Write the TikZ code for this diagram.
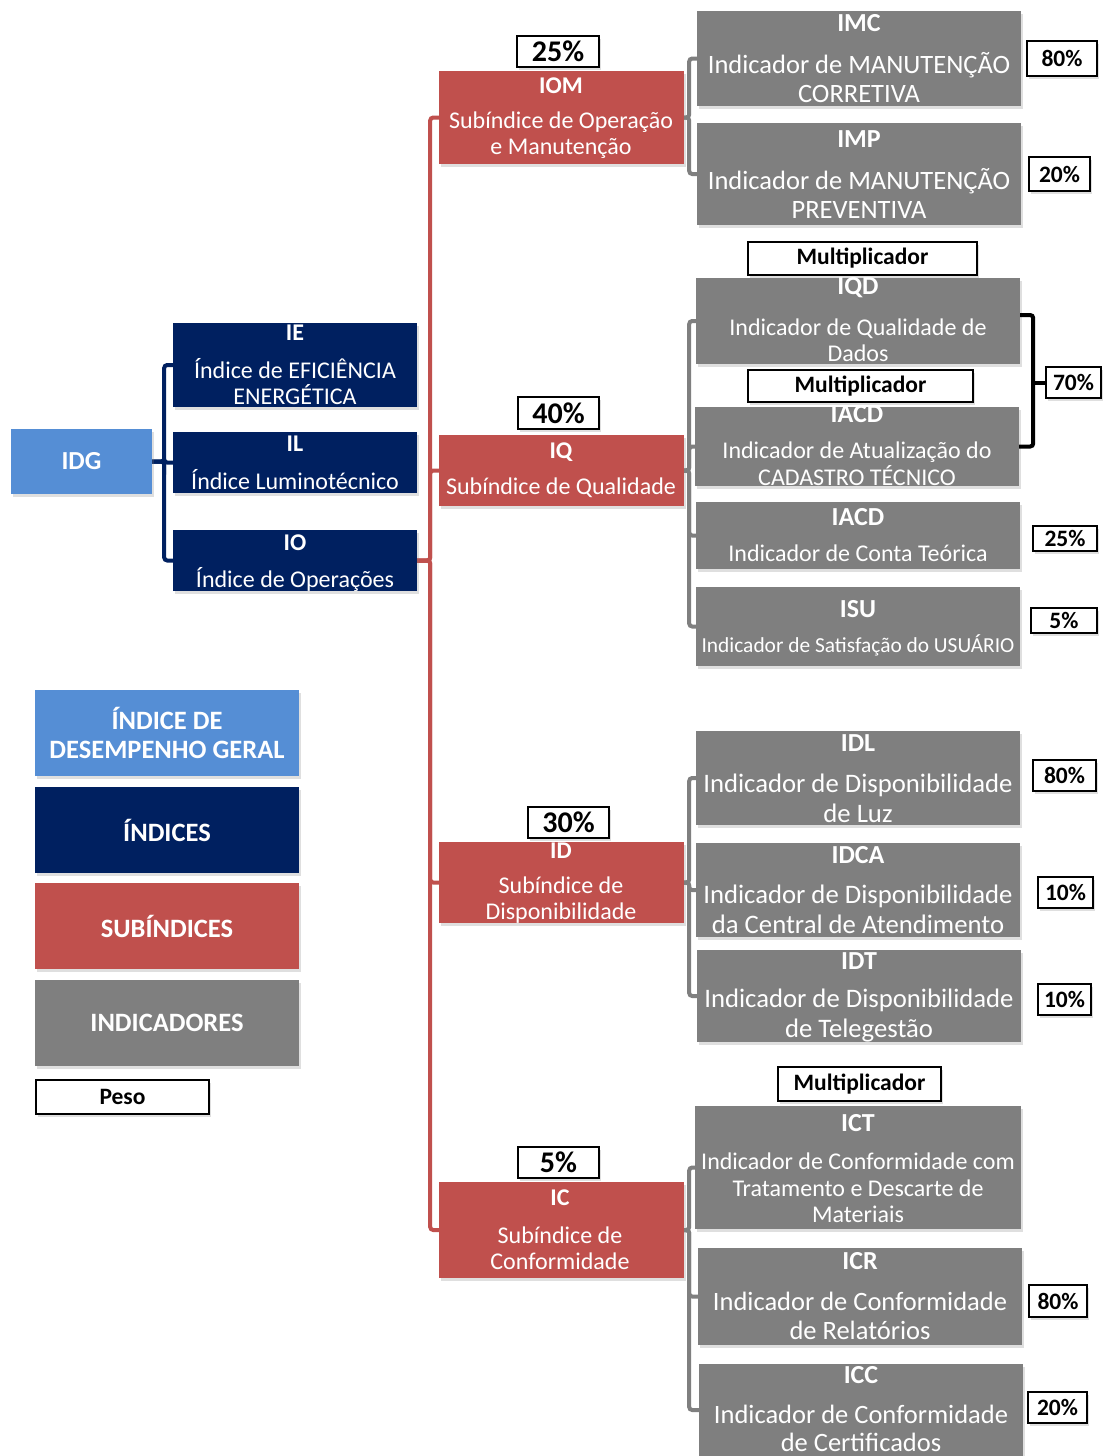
\documentclass[tikz,border=0pt]{standalone}
\usepackage{fontspec}
\setmainfont{Carlito}
\usetikzlibrary{shadows}
\definecolor{idgblue}{HTML}{558ED5}
\definecolor{idxnavy}{HTML}{002060}
\definecolor{subred}{HTML}{C0504D}
\definecolor{indgray}{HTML}{7F7F7F}
\newcommand{\fsz}[2]{\fontsize{#1}{#2}\selectfont}
\pgfdeclarelayer{bg}
\pgfsetlayers{bg,main}

\begin{document}
\begin{tikzpicture}[x=1pt,y=-1pt,
    box/.style={rectangle, inner sep=0pt, drop shadow={shadow xshift=2pt, shadow yshift=-3pt, opacity=0.25}},
    idgbox/.style={box, fill=idgblue},
    idxbox/.style={box, fill=idxnavy},
    subbox/.style={box, fill=subred},
    indbox/.style={box, fill=indgray},
    ttl/.style={text=white, inner sep=0pt, font=\bfseries\fsz{26}{28}},
    subttl/.style={ttl, font=\bfseries\fsz{24}{26}},
    txt/.style={text=white, inner sep=0pt, align=center},
    wgt/.style={box, fill=white, draw=black, line width=1.5pt, font=\bfseries\fsz{23.5}{25}},
    bigwgt/.style={wgt, font=\bfseries\fsz{30}{32}},
    legend/.style={box, minimum width=264, minimum height=86, text=white, align=center, font=\bfseries\fsz{26.5}{29}},
    navyline/.style={draw=idxnavy, line width=4pt, rounded corners=3pt},
    redline/.style={draw=subred, line width=4pt, rounded corners=3pt},
    grayline/.style={draw=indgray, line width=4pt, rounded corners=3pt},
    brace/.style={draw=black, line width=4pt, rounded corners=3pt}]
\useasboundingbox (0,0) rectangle (1104,1456);

% root and indices
\node[idgbox, minimum width=141, minimum height=65, text=white, font=\bfseries\fsz{26}{28}] (idg) at (81.5,461.5) {IDG};
\node[idxbox, minimum width=244, minimum height=84] (ie) at (295,365) {};
\node[subttl] (iet) at (295,333) {IE};
\node[txt, font=\fsz{24}{26}] (ied) at (295,382) {Índice de EFICIÊNCIA\\ENERGÉTICA};
\node[idxbox, minimum width=244, minimum height=61] (il) at (295,462.5) {};
\node[subttl] (ilt) at (295,444) {IL};
\node[txt, font=\fsz{24}{26}] (ild) at (295,480) {Índice Luminotécnico};
\node[idxbox, minimum width=244, minimum height=61] (io) at (295,560.5) {};
\node[subttl] (iot) at (295,543) {IO};
\node[txt, font=\fsz{24}{26}] (iod) at (295,579) {Índice de Operações};

% subindices
\node[subbox, minimum width=245, minimum height=93] (iom) at (561.5,117.5) {};
\node[subttl] (iomt) at (561,86) {IOM};
\node[txt, font=\fsz{24}{26}] (iomd) at (561,135) {Subíndice de Operação\\e Manutenção};
\node[bigwgt, minimum width=82, minimum height=31] (w25) at (558,51.5) {25\%};
\node[subbox, minimum width=245, minimum height=71] (iq) at (561.5,470.5) {};
\node[subttl] (iqt) at (561,452) {IQ};
\node[txt, font=\fsz{24}{26}] (iqd) at (561,488) {Subíndice de Qualidade};
\node[bigwgt, minimum width=81, minimum height=32] (w40) at (558.5,413) {40\%};
\node[subbox, minimum width=245, minimum height=81] (id) at (561.5,882.5) {};
\node[subttl] (idt) at (561,851) {ID};
\node[txt, font=\fsz{24}{26}] (idd) at (561,900) {Subíndice de\\Disponibilidade};
\node[bigwgt, minimum width=81, minimum height=31] (w30) at (568.5,822.5) {30\%};
\node[subbox, minimum width=245, minimum height=96] (ic) at (561.5,1230) {};
\node[subttl] (ict) at (560,1198) {IC};
\node[txt, font=\fsz{24}{26}] (icd) at (560,1248) {Subíndice de\\Conformidade};
\node[bigwgt, minimum width=81, minimum height=31] (w5) at (558.5,1162.5) {5\%};

% indicators of IOM
\node[indbox, minimum width=324, minimum height=95] (imc) at (859,58.5) {};
\node[ttl] (imct) at (859,23) {IMC};
\node[txt, font=\fsz{26.5}{29}] (imcd) at (859,77.5) {Indicador de MANUTENÇÃO\\CORRETIVA};
\node[wgt, minimum width=70, minimum height=35] (wimc) at (1062,58.5) {80\%};
\node[indbox, minimum width=324, minimum height=102] (imp) at (859,174) {};
\node[ttl] (impt) at (859,139) {IMP};
\node[txt, font=\fsz{26.5}{29}] (impd) at (859,193.5) {Indicador de MANUTENÇÃO\\PREVENTIVA};
\node[wgt, minimum width=61, minimum height=34] (wimp) at (1059.5,174) {20\%};

% indicators of IQ
\node[wgt, minimum width=229, minimum height=33] (mult1) at (862.5,258.5) {Multiplicador};
\node[indbox, minimum width=324, minimum height=86] (iqdi) at (858,321) {};
\node[ttl] (iqdt) at (858,288) {IQD};
\node[txt, font=\fsz{24}{26}] (iqdd) at (858,340) {Indicador de Qualidade de\\Dados};
\node[wgt, minimum width=225, minimum height=32] (mult2) at (860.5,386) {Multiplicador};
\node[indbox, minimum width=324, minimum height=79] (iacda) at (857,446.5) {};
\node[ttl] (iacdat) at (857,414) {IACD};
\node[txt, font=\fsz{24}{27}] (iacdad) at (857,463.5) {Indicador de Atualização do\\CADASTRO TÉCNICO};
\node[wgt, minimum width=55, minimum height=31] (w70) at (1073.5,382.5) {70\%};
\node[indbox, minimum width=324, minimum height=67] (iacdb) at (858,535.5) {};
\node[ttl] (iacdbt) at (858,517) {IACD};
\node[txt, font=\fsz{24}{26}] (iacdbd) at (858,553) {Indicador de Conta Teórica};
\node[wgt, minimum width=64, minimum height=25] (wiacdb) at (1065,538.5) {25\%};
\node[indbox, minimum width=324, minimum height=79] (isu) at (858,626.5) {};
\node[ttl] (isut) at (858,609) {ISU};
\node[txt, font=\fsz{21.4}{24}] (isud) at (858,645) {Indicador de Satisfação do USUÁRIO};
\node[wgt, minimum width=66, minimum height=25] (wisu) at (1064,620.5) {5\%};

% indicators of ID
\node[indbox, minimum width=324, minimum height=94] (idl) at (858,778) {};
\node[ttl] (idlt) at (858,743) {IDL};
\node[txt, font=\fsz{26.7}{30}] (idld) at (858,798) {Indicador de Disponibilidade\\de Luz};
\node[wgt, minimum width=63, minimum height=31] (widl) at (1064.5,775.5) {80\%};
\node[indbox, minimum width=324, minimum height=94] (idca) at (858,890) {};
\node[ttl] (idcat) at (858,855) {IDCA};
\node[txt, font=\fsz{26.7}{30}] (idcad) at (858,909) {Indicador de Disponibilidade\\da Central de Atendimento};
\node[wgt, minimum width=55, minimum height=31] (widca) at (1065.5,892.5) {10\%};
\node[indbox, minimum width=324, minimum height=92] (idti) at (859,996) {};
\node[ttl] (idtt) at (859,961) {IDT};
\node[txt, font=\fsz{26.7}{30}] (idtd) at (859,1016) {Indicador de Disponibilidade\\de Telegestão};
\node[wgt, minimum width=53, minimum height=31] (widt) at (1064.5,999.5) {10\%};

% indicators of IC
\node[wgt, minimum width=163, minimum height=34] (mult3) at (859.5,1084) {Multiplicador};
\node[indbox, minimum width=326, minimum height=123] (icti) at (858,1167.5) {};
\node[ttl] (ictt) at (858,1123) {ICT};
\node[txt, font=\fsz{24}{26.5}] (ictd) at (858,1188) {Indicador de Conformidade com\\Tratamento e Descarte de\\Materiais};
\node[indbox, minimum width=324, minimum height=97] (icr) at (860,1296.5) {};
\node[ttl] (icrt) at (860,1261) {ICR};
\node[txt, font=\fsz{26.5}{29}] (icrd) at (860,1315.5) {Indicador de Conformidade\\de Relatórios};
\node[wgt, minimum width=58, minimum height=32] (wicr) at (1058,1301) {80\%};
\node[indbox, minimum width=324, minimum height=92] (icc) at (861,1410) {};
\node[ttl] (icct) at (861,1375) {ICC};
\node[txt, font=\fsz{26.5}{28}] (iccd) at (861,1428) {Indicador de Conformidade\\de Certificados};
\node[wgt, minimum width=59, minimum height=31] (wicc) at (1057.5,1407.5) {20\%};

% legend
\node[legend, fill=idgblue] (lgidg) at (167,733) {ÍNDICE DE\\DESEMPENHO GERAL};
\node[legend, fill=idxnavy] (lgidx) at (167,830) {ÍNDICES};
\node[legend, fill=subred] (lgsub) at (167,926) {SUBÍNDICES};
\node[legend, fill=indgray] (lgind) at (167,1023) {INDICADORES};
\node[wgt, minimum width=173, minimum height=34] (lgpeso) at (122.5,1097) {Peso};

\begin{pgfonlayer}{bg}
\fill[white] (0,0) rectangle (1104,1456);
% connectors
\foreach \n in {ie,il,io} \draw[navyline] (idg.east) -- ++(12,0) |- (\n.west);
\foreach \n in {iom,iq,id,ic} \draw[redline] (io.east) -- ++(13,0) |- (\n.west);
\foreach \n in {imc,imp} \draw[grayline] (iom.east) -- ++(5,0) |- (\n.west);
\foreach \n in {iqdi,iacda,iacdb,isu} \draw[grayline] (iq.east) -- ++(5,0) |- (\n.west);
\foreach \n in {idl,idca,idti} \draw[grayline] (id.east) -- ++(5,0) |- (\n.west);
\foreach \n in {icti,icr,icc} \draw[grayline] (ic.east) -- ++(5,0) |- (\n.west);
\end{pgfonlayer}
% bracket for the 70% weight
\draw[brace] (iqdi.east) ++(0,-6) -- ++(13,0) |- (iacda.east);
\draw[brace] (w70.west) -- ++(-13,0);
\end{tikzpicture}
\end{document}
